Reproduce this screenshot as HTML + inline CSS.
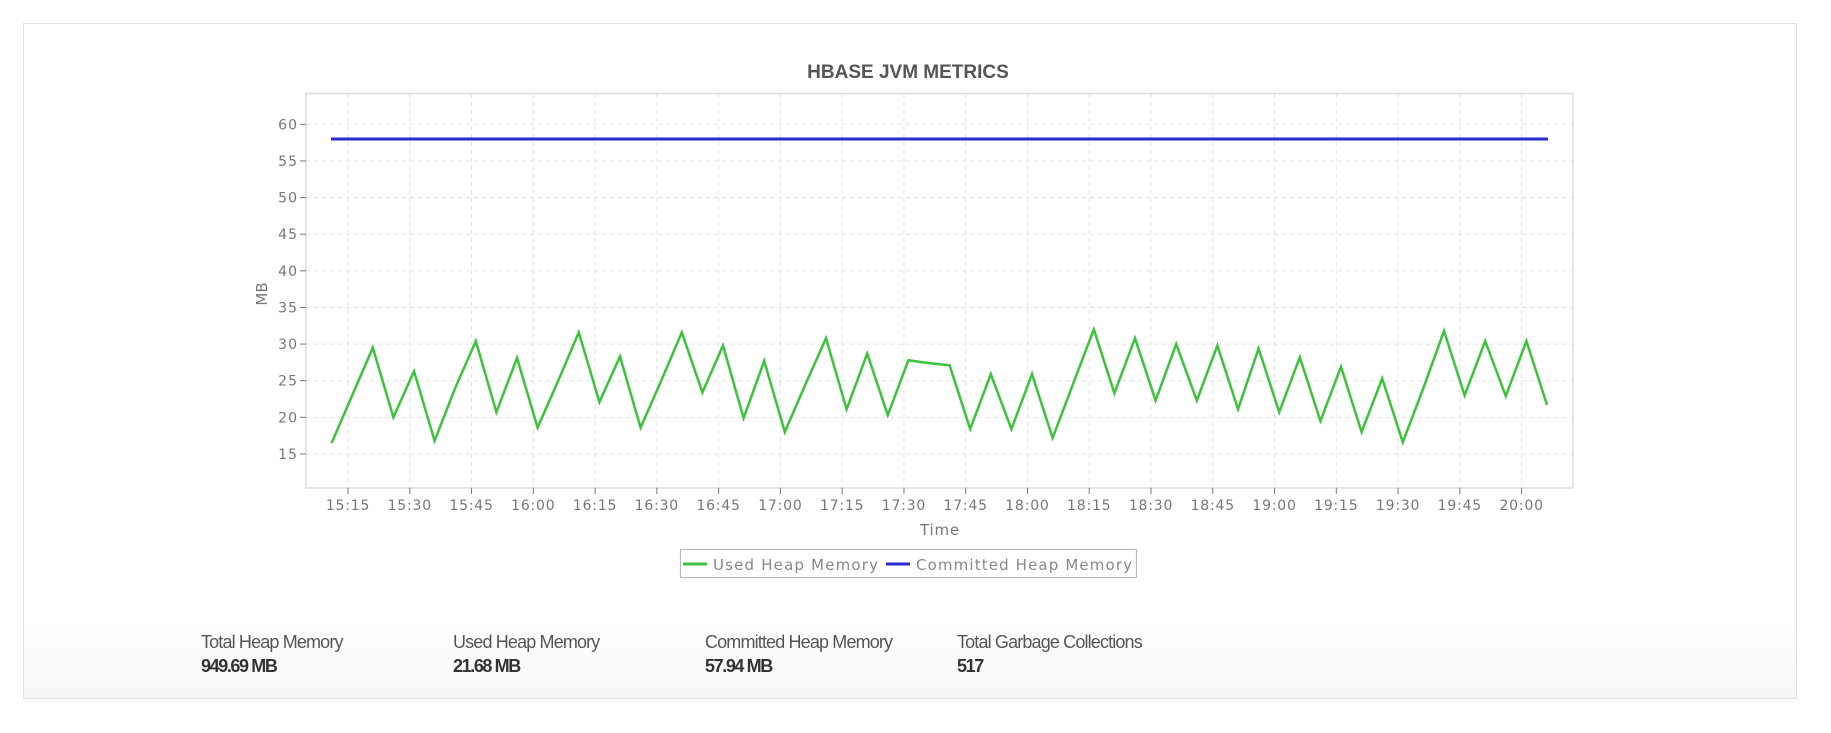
<!DOCTYPE html>
<html><head><meta charset="utf-8"><style>
html,body{margin:0;padding:0;background:#fff;}
body{width:1831px;height:733px;position:relative;overflow:hidden;font-family:"Liberation Sans",sans-serif;}
.card{position:absolute;left:23px;top:23px;width:1772px;height:674px;border:1px solid #e2e2e2;background:linear-gradient(to bottom,#fff 0,#fff 600px,#f7f7f7 674px);}
.st{position:absolute;font-size:18px;line-height:22px;color:#555;letter-spacing:-0.85px;}
.st b{display:block;margin-top:2px;color:#333;font-weight:bold;letter-spacing:-1.4px;}
</style></head><body>
<div class="card"></div>
<svg id="c" width="1831" height="733" style="position:absolute;left:0;top:0" font-family="DejaVu Sans, sans-serif">
<text x="908" y="78" text-anchor="middle" font-family="Liberation Sans, sans-serif" font-weight="bold" font-size="19" fill="#555">HBASE JVM METRICS</text>
<rect x="306" y="93.5" width="1267" height="394.5" fill="#fff" stroke="#ddd" stroke-width="1.5"/>
<g id="grid" stroke="#e2e2e2" stroke-dasharray="4,4" stroke-width="1"></g>
<g id="ticks" stroke="#777" stroke-width="1"></g>
<g id="ylab" font-size="14" fill="#777" text-anchor="end" letter-spacing="1"></g>
<g id="xlab" font-size="14" fill="#777" text-anchor="middle" letter-spacing="0.8"></g>
<text x="940" y="535" text-anchor="middle" font-size="15" fill="#777" letter-spacing="0.8">Time</text>
<text transform="translate(267,294) rotate(-90)" text-anchor="middle" font-size="15" fill="#777">MB</text>
<line x1="331" x2="1548" y1="139" y2="139" stroke="#2b2bd0" stroke-width="3"/>
<polyline id="g" fill="none" stroke="#3cc23c" stroke-width="2.5" points=""/>
<rect x="680.5" y="549.5" width="456" height="28" fill="#fff" stroke="#bbb" stroke-width="1.2"/>
<line x1="683" x2="707" y1="564" y2="564" stroke="#3cc23c" stroke-width="3"/>
<line x1="886" x2="910" y1="564" y2="564" stroke="#2b2bd0" stroke-width="3"/>
<g font-size="15" fill="#888">
<text x="713" y="570" textLength="165" lengthAdjust="spacing">Used Heap Memory</text>
<text x="916" y="570" textLength="216" lengthAdjust="spacing">Committed Heap Memory</text>
</g>
</svg>
<div class="st" style="left:201px;top:631px">Total Heap Memory<b>949.69 MB</b></div>
<div class="st" style="left:453px;top:631px">Used Heap Memory<b>21.68 MB</b></div>
<div class="st" style="left:705px;top:631px">Committed Heap Memory<b>57.94 MB</b></div>
<div class="st" style="left:957px;top:631px">Total Garbage Collections<b>517</b></div>
<script>
var NS="http://www.w3.org/2000/svg";
function el(p,t,a,txt){var e=document.createElementNS(NS,t);for(var k in a)e.setAttribute(k,a[k]);if(txt)e.textContent=txt;document.getElementById(p).appendChild(e);}
function Y(v){return 124.3+(60-v)*7.326;}
for(var v=60;v>=15;v-=5){var y=Y(v);el("grid","line",{x1:306,x2:1573,y1:y,y2:y});el("ticks","line",{x1:300,x2:306,y1:y,y2:y});el("ylab","text",{x:298,y:y+5},""+v);}
var times=["15:15","15:30","15:45","16:00","16:15","16:30","16:45","17:00","17:15","17:30","17:45","18:00","18:15","18:30","18:45","19:00","19:15","19:30","19:45","20:00"];
for(var i=0;i<20;i++){var x=348+i*61.77;el("grid","line",{x1:x,x2:x,y1:93.5,y2:488});el("ticks","line",{x1:x,x2:x,y1:488,y2:494});el("xlab","text",{x:x,y:510},times[i]);}
var vals=[16.5,23,29.5,20,26.3,16.8,24,30.4,20.7,28.1,18.6,25,31.6,22.1,28.3,18.6,25,31.6,23.4,29.8,19.9,27.7,18,24.5,30.8,21.1,28.7,20.3,27.8,27.4,27.1,18.4,25.9,18.4,25.9,17.2,24.6,32,23.3,30.8,22.3,30,22.3,29.8,21.1,29.4,20.7,28.2,19.5,26.9,18,25.3,16.6,24,31.8,23,30.4,22.9,30.4,21.7];
var pts=vals.map(function(v,i){return (331.6+i*20.6).toFixed(1)+","+Y(v).toFixed(1);}).join(" ");
document.getElementById("g").setAttribute("points",pts);
</script>
</body></html>
